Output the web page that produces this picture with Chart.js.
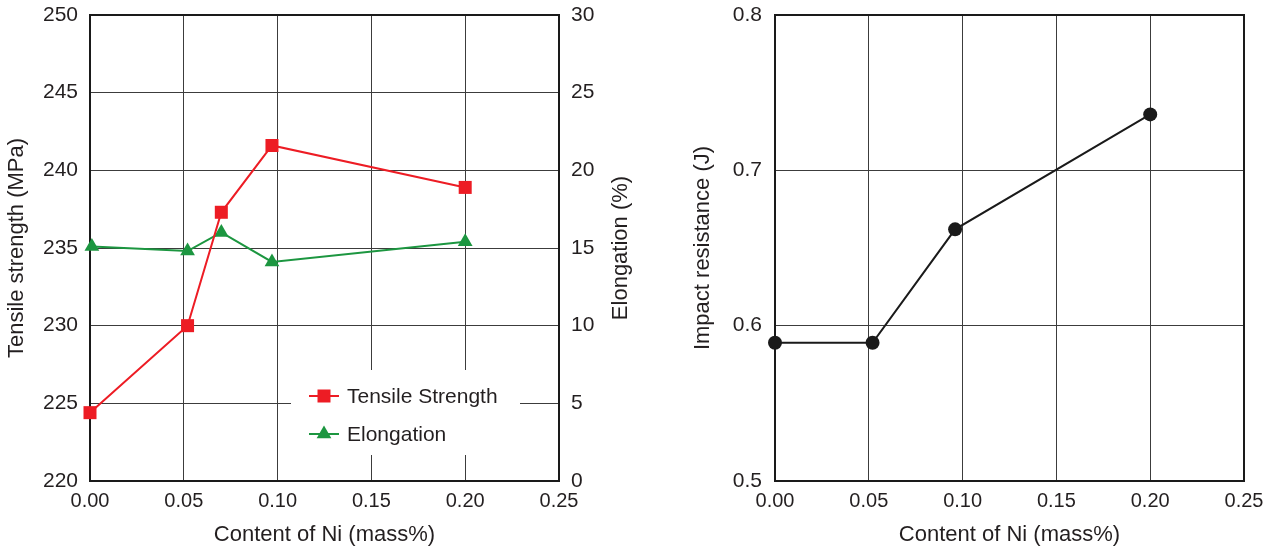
<!DOCTYPE html>
<html>
<head>
<meta charset="utf-8">
<script src="https://cdn.jsdelivr.net/npm/chart.js@4.4.0/dist/chart.umd.min.js"></script>
<style>
  html, body { margin: 0; padding: 0; background: #fff; }
  body { width: 1276px; height: 551px; position: relative; overflow: hidden; }
  canvas { position: absolute; top: 0; }
  #left { left: 0; }
  #right { left: 640px; }
</style>
</head>
<body>
<canvas id="left" width="640" height="551"></canvas>
<canvas id="right" width="636" height="551"></canvas>
<script>
// data
const niTensile = [0.0, 0.052, 0.07, 0.097, 0.20]
const tensile = [224.4, 230.0, 237.3, 241.6, 238.9]

const niElong = [0.001, 0.052, 0.07, 0.097, 0.20]
const elong = [15.1, 14.8, 16.0, 14.1, 15.4]

const niImpact = [0.0, 0.052, 0.096, 0.20]
const impact = [0.589, 0.589, 0.662, 0.736]

const xTicks = [0, 0.05, 0.10, 0.15, 0.20, 0.25]
const xTitle = "Content of Ni (mass%)"

const textColor = "#231f20"
const gridColor = "#3c3c3c"
const red = "#ed1c24"
const green = "#1c9640"
const fontFamily = "'Liberation Sans', Arial, Helvetica, sans-serif"

Chart.defaults.font.family = fontFamily
Chart.defaults.color = textColor

function pts(xs, ys) {
    return xs.map((x, i) => ({ x: x, y: ys[i] }))
}

function noPadY(s, w) {
    s.width = w
    s.paddingTop = 0
    s.paddingBottom = 0
}

// frame around the plot area
const frame = {
    id: "frame",
    beforeDatasetsDraw(chart) {
        const a = chart.chartArea
        const ctx = chart.ctx
        ctx.save()
        ctx.strokeStyle = "#1a1a1a"
        ctx.lineWidth = 2
        ctx.strokeRect(a.left, a.top, a.right - a.left, a.bottom - a.top)
        ctx.restore()
    }
}

// right axis title reads bottom-to-top like the left one
const rightTitle = {
    id: "rightTitle",
    afterDraw(chart) {
        const a = chart.chartArea
        const s = chart.scales.y1
        const ctx = chart.ctx
        ctx.save()
        ctx.translate(s.right - 19, (a.top + a.bottom) / 2)
        ctx.rotate(-Math.PI / 2)
        ctx.font = "22px " + fontFamily
        ctx.fillStyle = textColor
        ctx.textAlign = "center"
        ctx.textBaseline = "middle"
        ctx.fillText("Elongation (%)", 0, 0)
        ctx.restore()
    }
}

// legend sitting inside the plot, with a white box under it
const boxLegend = {
    id: "boxLegend",
    beforeDatasetsDraw(chart) {
        const a = chart.chartArea
        const ctx = chart.ctx
        const x0 = a.left + 201
        const y0 = 370
        ctx.save()
        ctx.fillStyle = "#fff"
        ctx.fillRect(x0, y0, 229, 85)
        ctx.font = "21px " + fontFamily
        ctx.textBaseline = "middle"
        chart.data.datasets.forEach((ds, i) => {
            const cy = y0 + 26 + i * 38
            const cx = x0 + 33
            ctx.strokeStyle = ds.borderColor
            ctx.lineWidth = 2
            ctx.beginPath()
            ctx.moveTo(cx - 15, cy)
            ctx.lineTo(cx + 15, cy)
            ctx.stroke()
            ctx.fillStyle = ds.backgroundColor
            ctx.beginPath()
            if (ds.pointStyle === "rect") {
                ctx.rect(cx - 6.5, cy - 6.5, 13, 13)
            } else {
                const r = 8.5
                ctx.moveTo(cx, cy - r)
                ctx.lineTo(cx + r * Math.sin(2.0944), cy - r * Math.cos(2.0944))
                ctx.lineTo(cx + r * Math.sin(4.1888), cy - r * Math.cos(4.1888))
                ctx.closePath()
            }
            ctx.fill()
            ctx.fillStyle = textColor
            ctx.fillText(ds.label, cx + 23, cy + 1)
        })
        ctx.restore()
    }
}

function xAxis() {
    return {
        type: "linear",
        min: 0,
        max: 0.25,
        afterBuildTicks: s => { s.ticks = xTicks.map(v => ({ value: v })) },
        ticks: {
            callback: v => v.toFixed(2),
            font: { size: 20 },
            color: textColor,
            padding: 8
        },
        grid: { color: gridColor, lineWidth: 1, drawTicks: false },
        border: { display: false },
        title: {
            display: true,
            text: xTitle,
            font: { size: 22 },
            color: textColor,
            padding: { top: 0, bottom: 3 }
        },
        afterFit: s => {
            s.height = 70
            s.paddingLeft = 0
            s.paddingRight = 0
        }
    }
}

new Chart(document.getElementById("left"), {
    type: "line",
    data: {
        datasets: [
            {
                label: "Tensile Strength",
                data: pts(niTensile, tensile),
                yAxisID: "y",
                borderColor: red,
                backgroundColor: red,
                borderWidth: 2,
                pointStyle: "rect",
                pointRadius: 9.2,
                pointBorderWidth: 0,
                clip: false
            },
            {
                label: "Elongation",
                data: pts(niElong, elong),
                yAxisID: "y1",
                borderColor: green,
                backgroundColor: green,
                borderWidth: 2,
                pointStyle: "triangle",
                pointRadius: 8.5,
                pointBorderWidth: 0,
                clip: false
            }
        ]
    },
    options: {
        responsive: false,
        animation: false,
        devicePixelRatio: 1,
        layout: { padding: { top: 15, left: 0, right: 0, bottom: 0 } },
        plugins: { legend: { display: false }, tooltip: { enabled: false } },
        scales: {
            x: xAxis(),
            y: {
                position: "left",
                min: 220,
                max: 250,
                ticks: { stepSize: 5, font: { size: 21 }, color: textColor, padding: 12 },
                grid: { color: gridColor, lineWidth: 1, drawTicks: false },
                border: { display: false },
                title: {
                    display: true,
                    text: "Tensile strength (MPa)",
                    font: { size: 22 },
                    color: textColor,
                    padding: { top: 4, bottom: 0 }
                },
                afterFit: s => noPadY(s, 90)
            },
            y1: {
                position: "right",
                min: 0,
                max: 30,
                ticks: { stepSize: 5, font: { size: 21 }, color: textColor, padding: 12 },
                grid: { display: false, drawTicks: false },
                border: { display: false },
                title: { display: false },
                afterFit: s => noPadY(s, 81)
            }
        }
    },
    plugins: [frame, boxLegend, rightTitle]
})

new Chart(document.getElementById("right"), {
    type: "line",
    data: {
        datasets: [
            {
                label: "Impact resistance",
                data: pts(niImpact, impact),
                borderColor: "#1a1a1a",
                backgroundColor: "#1a1a1a",
                borderWidth: 2,
                pointStyle: "circle",
                pointRadius: 7,
                pointBorderWidth: 0,
                clip: false
            }
        ]
    },
    options: {
        responsive: false,
        animation: false,
        devicePixelRatio: 1,
        layout: { padding: { top: 15, left: 0, right: 32, bottom: 0 } },
        plugins: { legend: { display: false }, tooltip: { enabled: false } },
        scales: {
            x: xAxis(),
            y: {
                min: 0.5,
                max: 0.8,
                ticks: {
                    stepSize: 0.1,
                    callback: v => v.toFixed(1),
                    font: { size: 21 },
                    color: textColor,
                    padding: 13
                },
                grid: { color: gridColor, lineWidth: 1, drawTicks: false },
                border: { display: false },
                title: {
                    display: true,
                    text: "Impact resistance (J)",
                    font: { size: 22 },
                    color: textColor,
                    padding: { top: 50, bottom: 0 }
                },
                afterFit: s => noPadY(s, 135)
            }
        }
    },
    plugins: [frame]
})
</script>
</body>
</html>
